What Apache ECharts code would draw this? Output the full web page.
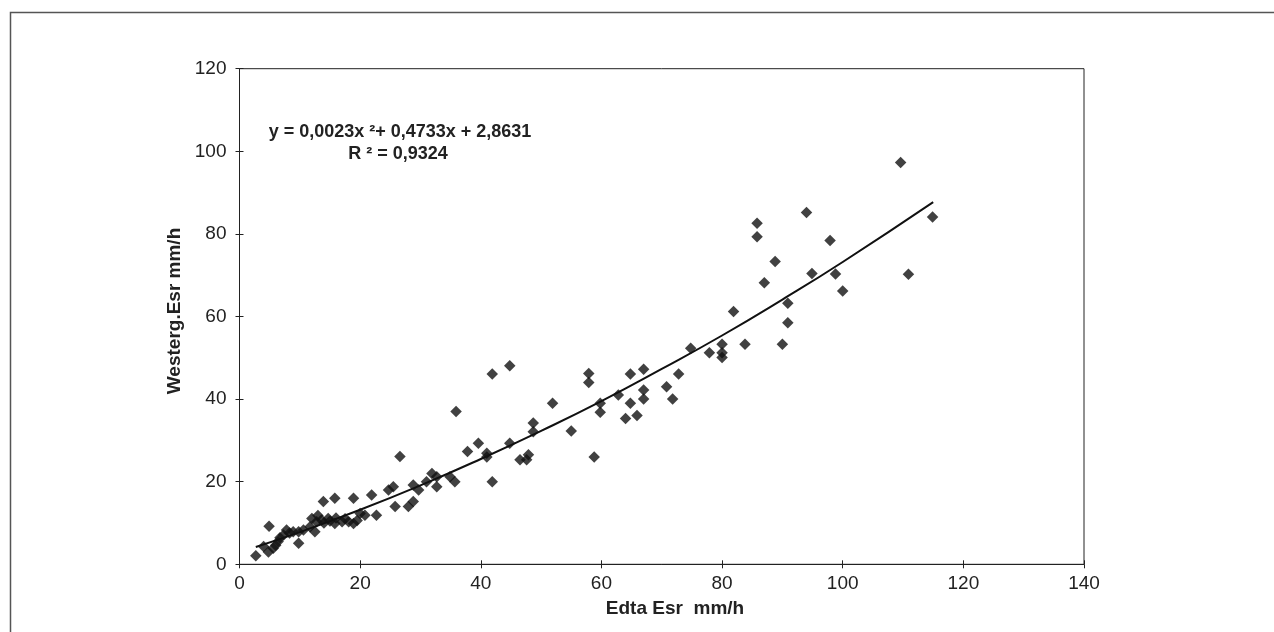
<!DOCTYPE html>
<html><head><meta charset="utf-8">
<script src="https://cdn.jsdelivr.net/npm/echarts@6/dist/echarts.min.js"></script>
<style>html,body{margin:0;padding:0;background:#fff}#c{width:1274px;height:632px}</style>
</head><body><div id="c"></div>
<script>
// Edta Esr (x) vs Westerg. Esr (y), mm/h
const points = [
  [2.7,2.1],[4.0,4.3],[4.9,9.2],[4.8,3.0],[5.6,3.9],[6.0,4.6],[6.4,5.5],[6.7,6.4],[7.3,7.1],[7.8,8.3],[8.3,7.6],[8.9,7.9],
  [9.8,5.1],[9.8,7.9],[10.6,8.3],[11.7,9.1],[12.0,11.1],[12.5,7.9],[12.8,10.3],[13.0,11.8],[13.9,15.2],[13.6,10.7],
  [14.0,10.0],[14.7,11.1],[15.0,10.5],[15.8,16.0],[15.8,9.9],[16.0,11.2],[17.0,10.3],[17.5,11.0],[18.1,10.3],[18.9,16.0],
  [18.9,9.9],[19.5,10.6],[20.0,12.3],[20.8,11.9],[21.9,16.8],[22.7,11.9],[24.7,18.0],[25.8,14.0],[25.5,18.8],[26.6,26.1],
  [28.0,14.0],[28.8,15.2],[28.8,19.2],[29.7,18.0],[31.0,20.0],[31.9,22.0],[32.7,21.2],[32.7,18.8],[34.9,21.2],[35.7,20.0],
  [35.9,37.0],[37.8,27.3],[39.6,29.3],[41.0,26.9],[41.0,26.0],[41.9,20.0],[44.8,29.3],[46.5,25.3],[47.6,25.3],[47.9,26.5],
  [41.9,46.1],[44.8,48.1],[48.7,34.2],[48.7,32.1],[51.9,39.0],[55.0,32.3],[58.8,26.0],[57.9,46.2],[57.9,44.0],[59.8,39.0],
  [59.8,36.8],[62.8,41.0],[64.8,46.1],[67.0,47.2],[64.8,39.0],[64.0,35.3],[65.9,36.0],[67.0,42.2],[67.0,40.0],[70.8,43.0],
  [71.8,40.0],[72.8,46.1],[74.8,52.3],[77.9,51.2],[80.0,53.3],[80.0,51.2],[80.0,50.1],[81.9,61.2],[83.8,53.3],
  [85.8,82.6],[85.8,79.3],[88.8,73.3],[87.0,68.2],[90.9,63.2],[90.9,58.5],[90.0,53.3],[94.0,85.2],[94.9,70.4],
  [97.9,78.4],[98.8,70.3],[100.0,66.2],[109.6,97.3],[110.9,70.2],[114.9,84.1]
];
// trendline positions
const trendX = [2.7, 10, 20, 30, 40, 50, 60, 70, 80, 90, 100, 115];
const trendY = [4.2, 7.8, 13.2, 19.1, 25.5, 32.3, 39.5, 47.3, 55.4, 64.1, 73.2, 87.7];
const xRange = {min: 0, max: 140, interval: 20};
const yRange = {min: 0, max: 120, interval: 20};
const xTitle = 'Edta Esr  mm/h';
const yTitle = 'Westerg.Esr mm/h';
const eqLine1 = 'y = 0,0023x \u00b2+ 0,4733x + 2,8631';
const eqLine2 = 'R \u00b2 = 0,9324';

const FONT = '"Liberation Sans", Arial, sans-serif';
const chart = echarts.init(document.getElementById('c'));
const axisCommon = (r) => ({type:'value', min:r.min, max:r.max, interval:r.interval, splitLine:{show:false}});
chart.setOption({
  animation:false,
  backgroundColor:'#fff',
  grid:{left:239.5, top:68.7, right:190, bottom:67.7, show:true, borderColor:'#222', borderWidth:1},
  xAxis:[
    Object.assign(axisCommon(xRange), {position:'bottom',
      axisLine:{lineStyle:{color:'#222', width:1}},
      axisTick:{inside:false, length:4, lineStyle:{color:'#222'}},
      axisLabel:{margin:10, color:'#222', fontSize:19, fontFamily:FONT}}),
    Object.assign(axisCommon(xRange), {position:'bottom',
      axisLine:{show:false}, axisTick:{inside:true, length:4, lineStyle:{color:'#222'}}, axisLabel:{show:false}})
  ],
  yAxis:[
    Object.assign(axisCommon(yRange), {position:'left',
      axisLine:{lineStyle:{color:'#222', width:1}},
      axisTick:{inside:false, length:4, lineStyle:{color:'#222'}},
      axisLabel:{margin:13, color:'#222', fontSize:19, fontFamily:FONT}}),
    Object.assign(axisCommon(yRange), {position:'left',
      axisLine:{show:false}, axisTick:{inside:true, length:4, lineStyle:{color:'#222'}}, axisLabel:{show:false}})
  ],
  series:[
    {type:'line', data:trendX.map((x,i)=>[x, trendY[i]]), smooth:true, showSymbol:false,
     lineStyle:{color:'#111', width:2}, z:2},
    {type:'scatter', data:points, symbol:'diamond', symbolSize:11.5, itemStyle:{color:'#111'}, z:3}
  ],
  graphic:[
    {type:'rect', shape:{x:10.5, y:12.5, width:1400, height:800}, style:{fill:'none', stroke:'#555', lineWidth:1.5}, silent:true, z:-1},
    {type:'text', x:400, y:132, style:{text:eqLine1, font:'bold 18px '+FONT, fill:'#222', align:'center', verticalAlign:'middle'}},
    {type:'text', x:398, y:154, style:{text:eqLine2, font:'bold 18px '+FONT, fill:'#222', align:'center', verticalAlign:'middle'}},
    {type:'text', x:675, y:609, style:{text:xTitle, font:'bold 19px '+FONT, fill:'#222', align:'center', verticalAlign:'middle'}},
    {type:'text', x:175, y:311, rotation:Math.PI/2, style:{text:yTitle, font:'bold 19px '+FONT, fill:'#222', align:'center', verticalAlign:'middle'}}
  ]
});
</script></body></html>
